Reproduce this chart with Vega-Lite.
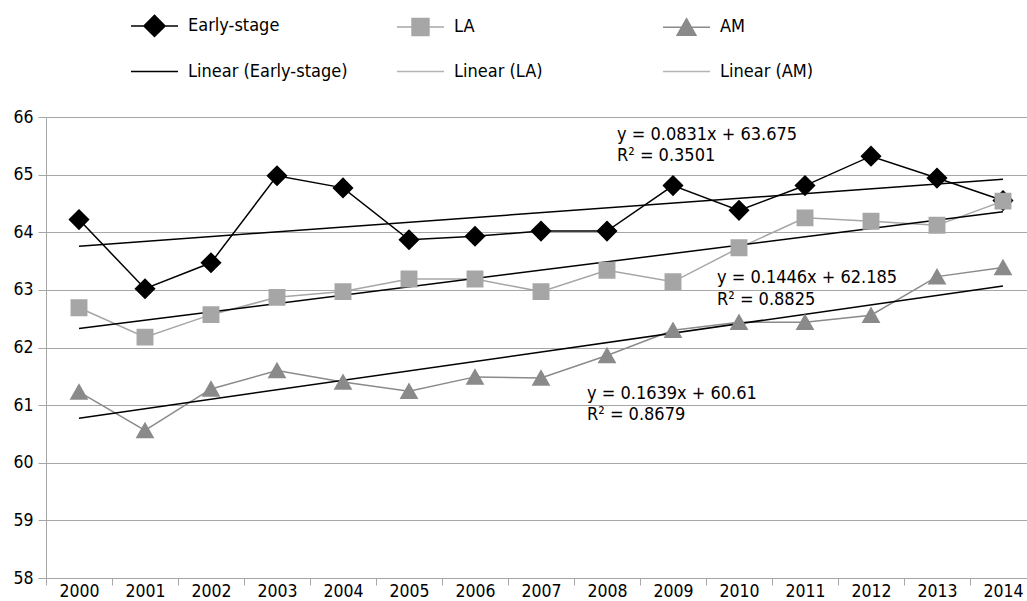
{
  "$schema": "https://vega.github.io/schema/vega-lite/v6.json",
  "width": 990,
  "height": 461,
  "autosize": {"type": "none"},
  "padding": {"left": 46, "top": 117, "right": 0, "bottom": 23},
  "background": "white",
  "config": {
    "view": {"stroke": null},
    "font": "DejaVu Sans Condensed",
    "text": {"font": "DejaVu Sans Condensed"}
  },
  "datasets": {
    "series": [
      {"year": 2000, "series": "Early-stage", "value": 64.22},
      {"year": 2001, "series": "Early-stage", "value": 63.02},
      {"year": 2002, "series": "Early-stage", "value": 63.47},
      {"year": 2003, "series": "Early-stage", "value": 64.98},
      {"year": 2004, "series": "Early-stage", "value": 64.77},
      {"year": 2005, "series": "Early-stage", "value": 63.87},
      {"year": 2006, "series": "Early-stage", "value": 63.93},
      {"year": 2007, "series": "Early-stage", "value": 64.02},
      {"year": 2008, "series": "Early-stage", "value": 64.02},
      {"year": 2009, "series": "Early-stage", "value": 64.81},
      {"year": 2010, "series": "Early-stage", "value": 64.38},
      {"year": 2011, "series": "Early-stage", "value": 64.81},
      {"year": 2012, "series": "Early-stage", "value": 65.32},
      {"year": 2013, "series": "Early-stage", "value": 64.94},
      {"year": 2014, "series": "Early-stage", "value": 64.55},
      {"year": 2000, "series": "LA", "value": 62.69},
      {"year": 2001, "series": "LA", "value": 62.18},
      {"year": 2002, "series": "LA", "value": 62.57},
      {"year": 2003, "series": "LA", "value": 62.87},
      {"year": 2004, "series": "LA", "value": 62.97},
      {"year": 2005, "series": "LA", "value": 63.19},
      {"year": 2006, "series": "LA", "value": 63.19},
      {"year": 2007, "series": "LA", "value": 62.97},
      {"year": 2008, "series": "LA", "value": 63.34},
      {"year": 2009, "series": "LA", "value": 63.14},
      {"year": 2010, "series": "LA", "value": 63.73},
      {"year": 2011, "series": "LA", "value": 64.25},
      {"year": 2012, "series": "LA", "value": 64.19},
      {"year": 2013, "series": "LA", "value": 64.12},
      {"year": 2014, "series": "LA", "value": 64.54},
      {"year": 2000, "series": "AM", "value": 61.23},
      {"year": 2001, "series": "AM", "value": 60.56},
      {"year": 2002, "series": "AM", "value": 61.28},
      {"year": 2003, "series": "AM", "value": 61.6},
      {"year": 2004, "series": "AM", "value": 61.4},
      {"year": 2005, "series": "AM", "value": 61.24},
      {"year": 2006, "series": "AM", "value": 61.49},
      {"year": 2007, "series": "AM", "value": 61.47},
      {"year": 2008, "series": "AM", "value": 61.86},
      {"year": 2009, "series": "AM", "value": 62.3},
      {"year": 2010, "series": "AM", "value": 62.44},
      {"year": 2011, "series": "AM", "value": 62.44},
      {"year": 2012, "series": "AM", "value": 62.56},
      {"year": 2013, "series": "AM", "value": 63.23},
      {"year": 2014, "series": "AM", "value": 63.39}
    ],
    "trend": [
      {"year": 2000, "series": "Early-stage", "value": 63.758},
      {"year": 2014, "series": "Early-stage", "value": 64.9215},
      {"year": 2000, "series": "LA", "value": 62.3296},
      {"year": 2014, "series": "LA", "value": 64.354},
      {"year": 2000, "series": "AM", "value": 60.7739},
      {"year": 2014, "series": "AM", "value": 63.0685}
    ],
    "eqEarly": [
      {"year": 2008, "value": 65.69, "label": "y = 0.0831x + 63.675"},
      {"year": 2008, "value": 65.32, "label": "R² = 0.3501"}
    ],
    "eqLA": [
      {"year": 2010, "value": 63.21, "label": "y = 0.1446x + 62.185"},
      {"year": 2010, "value": 62.83, "label": "R² = 0.8825"}
    ],
    "eqAM": [
      {"year": 2008, "value": 61.2, "label": "y = 0.1639x + 60.61"},
      {"year": 2008, "value": 60.83, "label": "R² = 0.8679"}
    ]
  },
  "encoding": {
    "x": {
      "field": "year",
      "type": "ordinal",
      "scale": {"type": "band", "paddingInner": 0, "paddingOuter": 0},
      "axis": {
        "title": null,
        "labelAngle": 0,
        "tickBand": "extent",
        "grid": false,
        "domainColor": "#a6a6a6",
        "tickColor": "#a6a6a6",
        "tickSize": 7,
        "labelPadding": -3,
        "labelFontSize": 17.5,
        "labelColor": "#000000"
      }
    },
    "y": {
      "field": "value",
      "type": "quantitative",
      "scale": {"domain": [58, 66], "nice": false, "zero": false},
      "axis": {
        "title": null,
        "values": [58, 59, 60, 61, 62, 63, 64, 65, 66],
        "grid": true,
        "gridColor": "#a6a6a6",
        "domainColor": "#a6a6a6",
        "tickColor": "#a6a6a6",
        "tickSize": 8,
        "labelPadding": 5,
        "labelFontSize": 17.5,
        "labelColor": "#000000"
      }
    }
  },
  "layer": [
    {
      "data": {"name": "series"},
      "mark": {"type": "line", "strokeWidth": 1.5},
      "encoding": {
        "color": {
          "field": "series",
          "type": "nominal",
          "scale": {
            "domain": ["Early-stage", "LA", "AM", "Linear (Early-stage)", "Linear (LA)", "Linear (AM)"],
            "range": ["#000000", "#a6a6a6", "#8a8a8a", "#000000", "#b4b4b4", "#b4b4b4"]
          },
          "legend": {
            "title": null,
            "orient": "none",
            "legendX": 84,
            "legendY": -116,
            "direction": "horizontal",
            "columns": 3,
            "gridAlign": "all",
            "columnPadding": 46,
            "rowPadding": 7,
            "padding": 0,
            "symbolSize": 2209,
            "symbolStrokeWidth": 1.5,
            "symbolOpacity": 1,
            "labelFontSize": 18,
            "labelOffset": 9,
            "labelColor": "#000000"
          }
        },
        "detail": {"field": "series"}
      }
    },
    {
      "data": {"name": "trend"},
      "mark": {"type": "line", "color": "#000000", "strokeWidth": 1.5},
      "encoding": {"detail": {"field": "series"}}
    },
    {
      "data": {"name": "series"},
      "mark": {"type": "point", "filled": true, "opacity": 1, "size": 2209},
      "encoding": {
        "color": {"field": "series", "type": "nominal"},
        "shape": {
          "field": "series",
          "type": "nominal",
          "scale": {
            "domain": ["Early-stage", "LA", "AM", "Linear (Early-stage)", "Linear (LA)", "Linear (AM)"],
            "range": [
              "M-1,0H1M0,-0.45L0.45,0L0,0.45L-0.45,0Z",
              "M-1,0H1M-0.36,-0.36H0.36V0.36H-0.36Z",
              "M-1,0H1M0,-0.37L0.4,0.33H-0.4Z",
              "M-1,0H1",
              "M-1,0H1",
              "M-1,0H1"
            ]
          },
          "legend": {
            "title": null,
            "orient": "none",
            "legendX": 84,
            "legendY": -116,
            "direction": "horizontal",
            "columns": 3,
            "gridAlign": "all",
            "columnPadding": 46,
            "rowPadding": 7,
            "padding": 0,
            "symbolSize": 2209,
            "symbolStrokeWidth": 1.5,
            "symbolOpacity": 1,
            "labelFontSize": 18,
            "labelOffset": 9,
            "labelColor": "#000000"
          }
        }
      }
    },
    {
      "data": {"name": "eqEarly"},
      "mark": {"type": "text", "align": "left", "baseline": "middle", "dx": 10, "fontSize": 18, "color": "#000000"},
      "encoding": {"text": {"field": "label"}}
    },
    {
      "data": {"name": "eqLA"},
      "mark": {"type": "text", "align": "left", "baseline": "middle", "dx": -22, "fontSize": 18, "color": "#000000"},
      "encoding": {"text": {"field": "label"}}
    },
    {
      "data": {"name": "eqAM"},
      "mark": {"type": "text", "align": "left", "baseline": "middle", "dx": -20, "fontSize": 18, "color": "#000000"},
      "encoding": {"text": {"field": "label"}}
    }
  ]
}
